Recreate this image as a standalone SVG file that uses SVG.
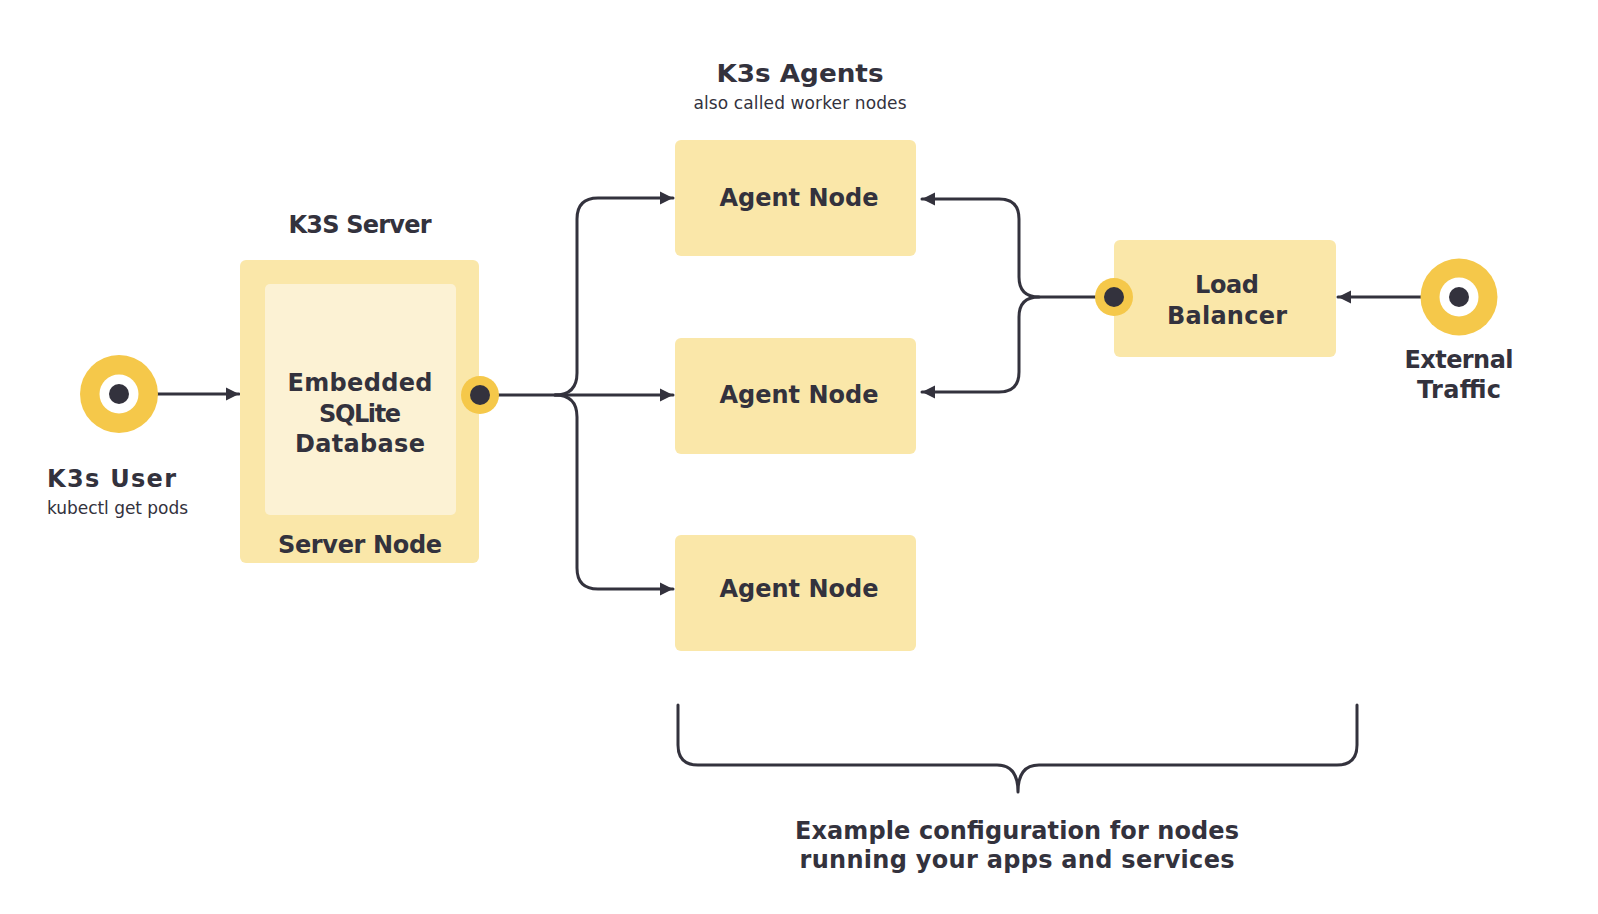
<svg xmlns="http://www.w3.org/2000/svg" width="1598" height="914" viewBox="0 0 1598 914">
<defs>
<style>
.box{fill:#FAE7A9}
.inner{fill:#FCF2D4}
.ring{fill:#F5C84A}
.hole{fill:#FFFFFF}
.dot{fill:#33323D}
.b{font-family:"DejaVu Sans","Open Sans",sans-serif;font-weight:700;font-size:24px;fill:#33323D;text-anchor:middle}
.r{font-family:"DejaVu Sans","Open Sans",sans-serif;font-weight:400;font-size:17px;fill:#33323D;text-anchor:middle}
.line{fill:none;stroke:#33323D;stroke-width:3;stroke-linecap:round;stroke-linejoin:round}
</style>
<marker id="arrow" markerUnits="userSpaceOnUse" markerWidth="14" markerHeight="14" refX="13" refY="7" orient="auto">
<path d="M0,0.5 L13,7 L0,13.5 Z" fill="#33323D"/>
</marker>
</defs>
<rect width="1598" height="914" fill="#FFFFFF"/>

<g id="agents-title">
<text class="b" x="800" y="82" textLength="167" lengthAdjust="spacingAndGlyphs">K3s Agents</text>
<text class="r" x="800" y="109" textLength="213">also called worker nodes</text>
</g>

<g id="connectors">
<path class="line" d="M119,394 H239" marker-end="url(#arrow)"/>
<path class="line" d="M480,395 H673" marker-end="url(#arrow)"/>
<path class="line" d="M555,395 Q577,395 577,373 V219 Q577,198 598,198 H673" marker-end="url(#arrow)"/>
<path class="line" d="M555,395 Q577,395 577,417 V568 Q577,589 598,589 H673" marker-end="url(#arrow)"/>
<path class="line" d="M1114,297 H1039 Q1019,297 1019,277 V219 Q1019,199 999,199 H922" marker-end="url(#arrow)"/>
<path class="line" d="M1039,297 Q1019,297 1019,317 V372 Q1019,392 999,392 H922" marker-end="url(#arrow)"/>
<path class="line" d="M1459,297 H1338" marker-end="url(#arrow)"/>
</g>

<g id="k3s-user">
<circle class="ring" cx="119" cy="394" r="39"/>
<circle class="hole" cx="119" cy="394" r="19.5"/>
<circle class="dot" cx="119" cy="394" r="10"/>
<text class="b" x="47" y="487" style="text-anchor:start" textLength="129">K3s User</text>
<text class="r" x="47" y="514" style="text-anchor:start" textLength="141">kubectl get pods</text>
</g>

<g id="server-node">
<text class="b" x="360" y="233" textLength="143">K3S Server</text>
<rect class="box" x="240" y="260" width="239" height="303" rx="6"/>
<rect class="inner" x="265" y="284" width="191" height="231" rx="5"/>
<text class="b" x="360" y="391" textLength="145">Embedded</text>
<text class="b" x="360" y="422" textLength="82">SQLite</text>
<text class="b" x="360" y="452" textLength="130">Database</text>
<text class="b" x="360" y="553" textLength="164">Server Node</text>
<circle class="ring" cx="480" cy="395" r="19"/>
<circle class="dot" cx="480" cy="395" r="10"/>
</g>

<g id="agent-node-1">
<rect class="box" x="675" y="140" width="241" height="116" rx="6"/>
<text class="b" x="799" y="206" textLength="159">Agent Node</text>
</g>

<g id="agent-node-2">
<rect class="box" x="675" y="338" width="241" height="116" rx="6"/>
<text class="b" x="799" y="403" textLength="159">Agent Node</text>
</g>

<g id="agent-node-3">
<rect class="box" x="675" y="535" width="241" height="116" rx="6"/>
<text class="b" x="799" y="597" textLength="159">Agent Node</text>
</g>

<g id="load-balancer">
<rect class="box" x="1114" y="240" width="222" height="117" rx="6"/>
<text class="b" x="1227" y="293" textLength="64">Load</text>
<text class="b" x="1227" y="324" textLength="120">Balancer</text>
<circle class="ring" cx="1114" cy="297" r="19"/>
<circle class="dot" cx="1114" cy="297" r="10"/>
</g>

<g id="external-traffic">
<circle class="ring" cx="1459" cy="297" r="38.5"/>
<circle class="hole" cx="1459" cy="297" r="19.5"/>
<circle class="dot" cx="1459" cy="297" r="10"/>
<text class="b" x="1459" y="368" textLength="109">External</text>
<text class="b" x="1459" y="398" textLength="84">Traffic</text>
</g>

<g id="bracket">
<path class="line" d="M678,705 V745 Q678,765 698,765 H997 C1012,765 1018,776 1018,792 C1018,776 1024,765 1039,765 H1337 Q1357,765 1357,745 V705"/>
<text class="b" x="1017" y="839" textLength="444">Example configuration for nodes</text>
<text class="b" x="1017" y="868" textLength="435">running your apps and services</text>
</g>
</svg>
